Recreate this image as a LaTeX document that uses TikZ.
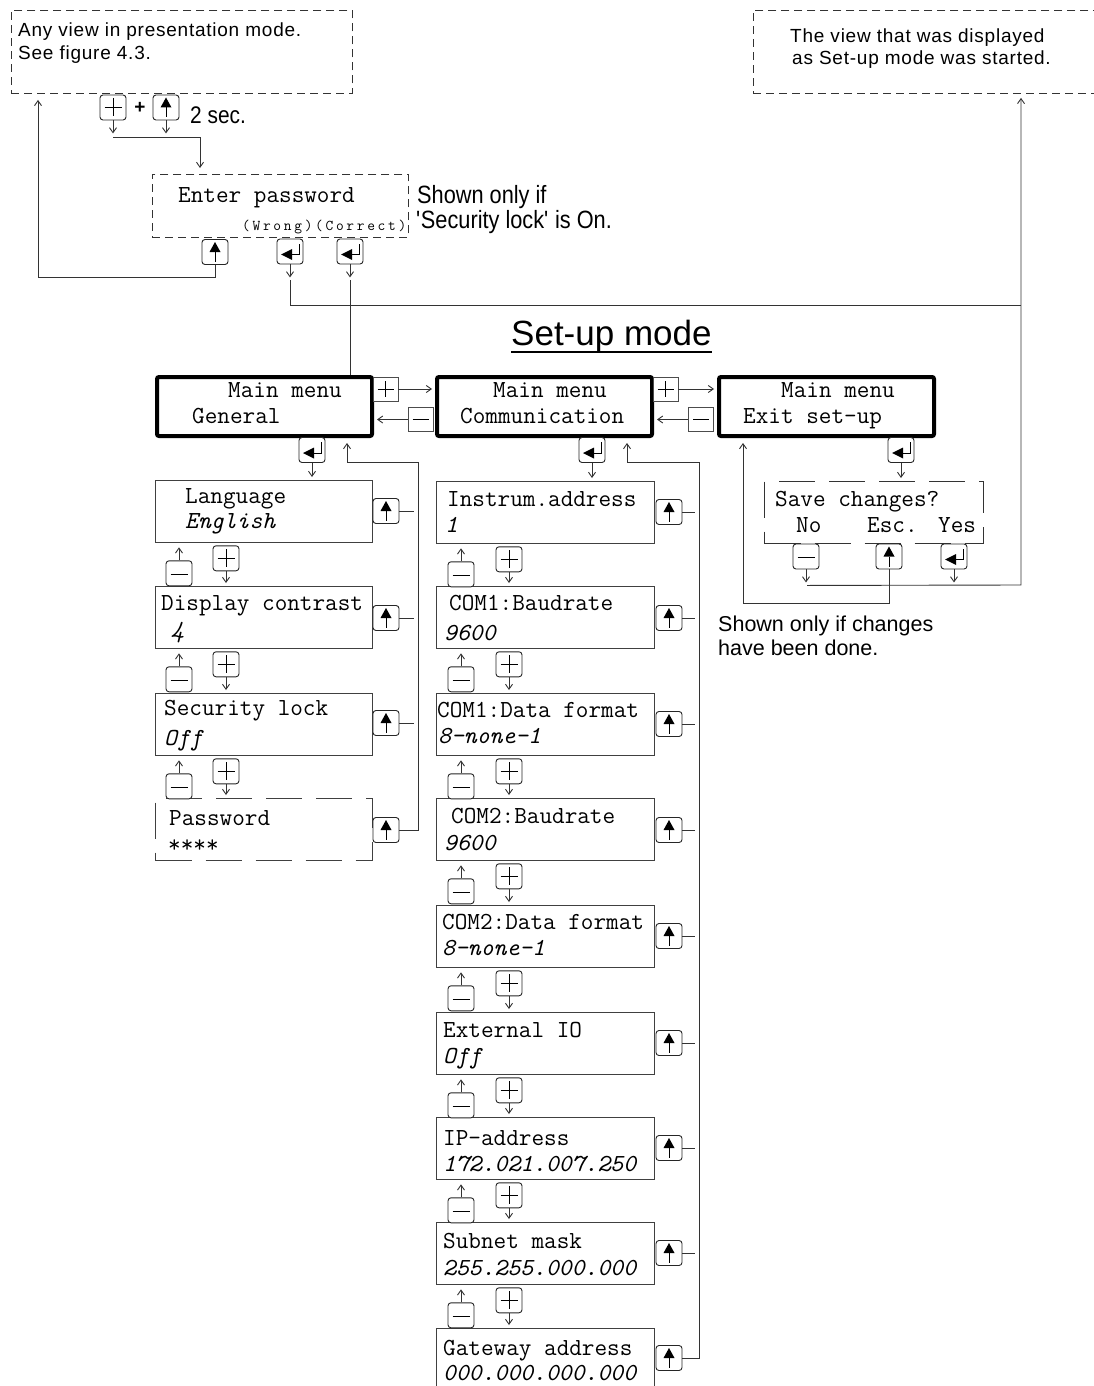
\documentclass[tikz,border=0pt]{standalone}
\usepackage{fontspec}
\setmainfont{Liberation Sans}
\newfontfamily\narrowsans[FakeStretch=0.87]{Liberation Sans}
\newfontfamily\smalltt[LetterSpace=18]{Latin Modern Mono}
\usetikzlibrary{arrows.meta,calc}
\tikzset{
  conn/.style={line width=0.9pt, draw=black!80},
  arr/.style={conn, -{Straight Barb[length=5pt,width=7pt,line width=0.9pt]}},
  lcd/.style={draw=black!75, line width=1.3pt, minimum height=62pt, anchor=north west, inner sep=0pt},
  lcdL/.style={lcd, minimum width=217pt},
  lcdC/.style={lcd, minimum width=218pt},
  ldash/.style={dash pattern=on 36pt off 14pt},
  menubox/.style={draw=black, line width=4pt, rounded corners=2pt, minimum width=215pt, minimum height=59pt, anchor=north west, inner sep=0pt},
  dbox/.style={draw=black!80, line width=0.9pt, dash pattern=on 8pt off 5pt, anchor=north west, inner sep=0pt},
  lcdt/.style={anchor=base west, inner sep=0pt, font=\ttfamily\fontsize{24.5}{26}\selectfont},
  lcdi/.style={anchor=base west, inner sep=0pt, font=\ttfamily\itshape\fontsize{24.5}{26}\selectfont},
  sans/.style={anchor=base west, inner sep=0pt, font=\fontsize{19}{22}\selectfont\addfontfeature{LetterSpace=4}},
  nsans/.style={anchor=base west, inner sep=0pt, font=\narrowsans\fontsize{25}{27}\selectfont},
  psans/.style={anchor=base west, inner sep=0pt, font=\fontsize{21.5}{24}\selectfont},
  btn/.style={draw=black!85, line width=0.9pt, rounded corners=3pt, minimum width=26pt, minimum height=25pt, inner sep=0pt, fill=white},
  bplus/.style={btn, path picture={\draw[black, line width=0.8pt, sharp corners, shift={(path picture bounding box.center)}] (-8.5,0) -- (8.5,0) (0,-9) -- (0,9);}},
  bminus/.style={btn, path picture={\draw[black, line width=0.8pt, sharp corners, shift={(path picture bounding box.center)}] (-8.5,1) -- (8.5,1);}},
  bup/.style={btn, path picture={\fill[fill=black, sharp corners, shift={(path picture bounding box.center)}] (0,-10) -- (5.5,0) -- (-5.5,0) -- cycle; \draw[black, line width=0.9pt, sharp corners, shift={(path picture bounding box.center)}] (0,0) -- (0,10);}},
  benter/.style={btn, path picture={\fill[fill=black, sharp corners, shift={(path picture bounding box.center)}] (-9,3) -- (2,-2.5) -- (2,8.5) -- cycle; \draw[black, line width=0.9pt, sharp corners, shift={(path picture bounding box.center)}] (2,3) -- (9,3) -- (9,-8);}},
  sq/.style={draw=black!70, line width=0.8pt, minimum width=25pt, minimum height=24pt, inner sep=0pt, fill=white},
  sqplus/.style={sq, path picture={\draw[black, line width=0.8pt, shift={(path picture bounding box.center)}] (-8,0) -- (8,0) (0,-8) -- (0,8);}},
  sqminus/.style={sq, path picture={\draw[black, line width=0.8pt, shift={(path picture bounding box.center)}] (-8,0) -- (8,0);}}
}
\begin{document}
\begin{tikzpicture}[x=1pt,y=-1pt]
\useasboundingbox (0,0) rectangle (1094,1386);
\fill[white] (0,0) rectangle (1094,1386);

% ---------- top boxes
\node[dbox, minimum width=341pt, minimum height=83pt] (anyview) at (11,10) {};
\node[sans] (anyT1) at (18,37) {Any view in presentation mode.};
\node[sans] (anyT2) at (18,60) {See figure 4.3.};
\node[dbox, minimum width=360pt, minimum height=83pt] (prevview) at (753,10) {};
\node[sans] (prevT1) at (790,43) {The view that was displayed};
\node[sans] (prevT2) at (792,65) {as Set-up mode was started.};

\node[bplus] (kplus) at (113,107.5) {};
\node[bup] (kup) at (166,107.5) {};
\node[inner sep=0pt, font=\bfseries\fontsize{19}{19}\selectfont] (kand) at (140,108) {+};
\node[anchor=base west, inner sep=0pt, font=\narrowsans\fontsize{24}{26}\selectfont] (twosec) at (190,124) {2 sec.};
\draw[arr] (kplus.south) -- ++(0,13);
\draw[arr] (kup.south) -- ++(0,13);

% ---------- enter password
\node[dbox, minimum width=256pt, minimum height=63pt] (ep) at (152,174) {};
\coordinate (jn) at (113,137);
\draw[arr, shorten >=6pt] (jn) -| ($(ep.north west)+(48,0)$);
\node[lcdt] (epT) at (178,202) {Enter password};
\node[anchor=base west, inner sep=0pt, font=\smalltt\fontsize{15}{16}\selectfont] (epT2) at (242,230) {(Wrong)(Correct)};
\node[nsans] (shownT1) at (417,203) {Shown only if};
\node[nsans] (shownT2) at (416,228) {\textquotesingle Security lock\textquotesingle{} is On.};
\node[bup] (epEsc) at (215,252) {};
\node[benter] (epWrong) at (290,251.5) {};
\node[benter] (epRight) at (350,251.5) {};
\draw[arr, shorten >=6pt] (epEsc.south) |- ($(anyview.south west)+(27,184)$) -- ($(anyview.south west)+(27,0)$);
\draw[arr] (epWrong.south) -- ++(0,13);
\draw[arr] (epRight.south) -- ++(0,13);
\coordinate (rj) at (1021,585);
\draw[conn] ($(epWrong.south)+(0,16)$) |- (rj |- 0,305);

% ---------- title
\node[anchor=base west, inner sep=0pt, font=\fontsize{35}{37}\selectfont] (title) at (511,345) {Set-up mode};
\draw[line width=2pt] ($(title.base west)+(0,7)$) -- ($(title.base east)+(0,7)$);

% ---------- main menus
\node[menubox] (mg) at (155,375) {};
\node[menubox] (mc) at (435,375) {};
\node[menubox] (me) at (717,375) {};
\node[lcdt] (mgT1) at (228,397) {Main menu};
\node[lcdt] (mgT2) at (192,423) {General};
\node[lcdt] (mcT1) at (493,397) {Main menu};
\node[lcdt] (mcT2) at (460,423) {Communication};
\node[lcdt] (meT1) at (781,397) {Main menu};
\node[lcdt] (meT2) at (743,423) {Exit set-up};
\draw[conn] ($(epRight.south)+(0,16)$) -- (epRight.south |- mg.north);

\node[sqplus] (g2c) at (385.5,389) {};
\node[sqminus] (c2g) at (420.5,419.5) {};
\node[sqplus] (c2e) at (665.5,389) {};
\node[sqminus] (e2c) at (701,419.5) {};
\draw[arr, shorten >=3pt] (g2c.east) -- (g2c.east -| mc.west);
\draw[arr, shorten >=3pt] (c2g.west) -- (c2g.west -| mg.east);
\draw[arr, shorten >=3pt] (c2e.east) -- (c2e.east -| me.west);
\draw[arr, shorten >=3pt] (e2c.west) -- (e2c.west -| mc.east);

\node[benter] (mgE) at (312,450) {};
\node[benter] (mcE) at (592,450) {};
\node[benter] (meE) at (901,450) {};

% ---------- left column
\foreach \i/\t in {1/480,2/586,3/693}{
  \node[lcdL] (L\i) at (155,\t) {};
}
\node[lcdL, ldash] (L4) at (155,798) {};
\foreach \i/\t in {1/511,2/618,3/723,4/830}{
  \node[bup] (LU\i) at (386,\t) {};
}
\foreach \i in {1,2,3}{
  \draw[conn] (LU\i.east) -- ++(15,0);
}
\foreach \i/\j in {1/2,2/3,3/4}{
  \node[bminus] (LM\i) at ($(L\i.south west)+(24,30)$) {};
  \node[bplus] (LP\i) at ($(L\i.south west)+(71,15)$) {};
  \draw[arr, shorten >=4pt] (LM\i.north) -- (LM\i.north |- L\i.south);
  \draw[arr, shorten >=3pt] (LP\i.south) -- (LP\i.south |- L\j.north);
}
\node[lcdt] (l1a) at (185,503) {Language};
\node[lcdi] (l1b) at (185,528) {English};
\node[lcdt] (l2a) at (161,610) {Display contrast};
\node[lcdi] (l2b) at (171,637) {4};
\node[lcdt] (l3a) at (164,715) {Security lock};
\node[lcdi] (l3b) at (164,745) {Off};
\node[lcdt] (l4a) at (169,825) {Password};
\node[lcdt] (l4b) at (168,852) {****};
\draw[arr, shorten >=3pt] (mgE.south) -- (mgE.south |- L1.north);
\draw[arr, shorten >=5pt] (LU4.east) -| ($(mg.south east)+(44,24)$) -| ($(mg.south west)+(192,0)$);

% ---------- communication column
\foreach \i/\t in {1/481,2/586,3/693,4/798,5/905,6/1012,7/1117,8/1222}{
  \node[lcdC] (C\i) at (436,\t) {};
}
\node[lcdC, minimum height=70pt] (C9) at (436,1328) {};
\foreach \i/\t in {1/512,2/618,3/724,4/830,5/936,6/1043,7/1148,8/1253,9/1358}{
  \node[bup] (CU\i) at (669,\t) {};
}
\foreach \i in {1,...,8}{
  \draw[conn] (CU\i.east) -- ++(13,0);
}
\foreach \i/\j in {1/2,2/3,3/4,4/5,5/6,6/7,7/8,8/9}{
  \node[bminus] (CM\i) at ($(C\i.south west)+(25,30)$) {};
  \node[bplus] (CP\i) at ($(C\i.south west)+(73,15)$) {};
  \draw[arr, shorten >=4pt] (CM\i.north) -- (CM\i.north |- C\i.south);
  \draw[arr, shorten >=3pt] (CP\i.south) -- (CP\i.south |- C\j.north);
}
\node[lcdt] (c1a) at (447,506) {Instrum.address};
\node[lcdi] (c1b) at (445,532) {1};
\node[lcdt] (c2a) at (449,610) {COM1:Baudrate};
\node[lcdi] (c2b) at (444,640) {9600};
\node[lcdt] (c3a) at (437,717) {COM1:Data format};
\node[lcdi] (c3b) at (438,743) {8-none-1};
\node[lcdt] (c4a) at (451,823) {COM2:Baudrate};
\node[lcdi] (c4b) at (444,850) {9600};
\node[lcdt] (c5a) at (442,929) {COM2:Data format};
\node[lcdi] (c5b) at (442,955) {8-none-1};
\node[lcdt] (c6a) at (443,1037) {External IO};
\node[lcdi] (c6b) at (443,1063) {Off};
\node[lcdt] (c7a) at (443,1145) {IP-address};
\node[lcdi] (c7b) at (443,1171) {172.021.007.250};
\node[lcdt] (c8a) at (443,1248) {Subnet mask};
\node[lcdi] (c8b) at (443,1275) {255.255.000.000};
\node[lcdt] (c9a) at (443,1355) {Gateway address};
\node[lcdi] (c9b) at (443,1380) {000.000.000.000};
\draw[arr, shorten >=3pt] (mcE.south) -- (mcE.south |- C1.north);
\draw[arr, shorten >=5pt] (CU9.east) -| ($(mc.south east)+(45,24)$) -| ($(mc.south west)+(192,0)$);

% ---------- exit / save
\node[dbox, ldash, line width=1.1pt, minimum width=219pt, minimum height=62pt] (save) at (764,481) {};
\node[lcdt] (sT1) at (775,506) {Save changes?};
\node[lcdt] (sT2) at (796,532) {No};
\node[lcdt] (sT3) at (867,532) {Esc.};
\node[lcdt] (sT4) at (938,532) {Yes};
\draw[arr, shorten >=3pt] (meE.south) -- (meE.south |- save.north);
\node[bminus] (sNo) at (806,556.5) {};
\node[bup] (sEsc) at (889,556.5) {};
\node[benter] (sYes) at (954,556.5) {};
\draw[arr] (sNo.south) -- ++(0,13);
\draw[arr] (sYes.south) -- ++(0,13);
\draw[arr, shorten >=4pt] ($(sNo.south)+(1,16)$) -- (rj) -- (rj |- prevview.south);
\draw[arr, shorten >=5pt] (sEsc.south) |- ($(me.south west)+(26,165)$) -- ($(me.south west)+(26,0)$);
\node[psans] (chT1) at (718,631) {Shown only if changes};
\node[psans] (chT2) at (718,655) {have been done.};
\end{tikzpicture}
\end{document}
